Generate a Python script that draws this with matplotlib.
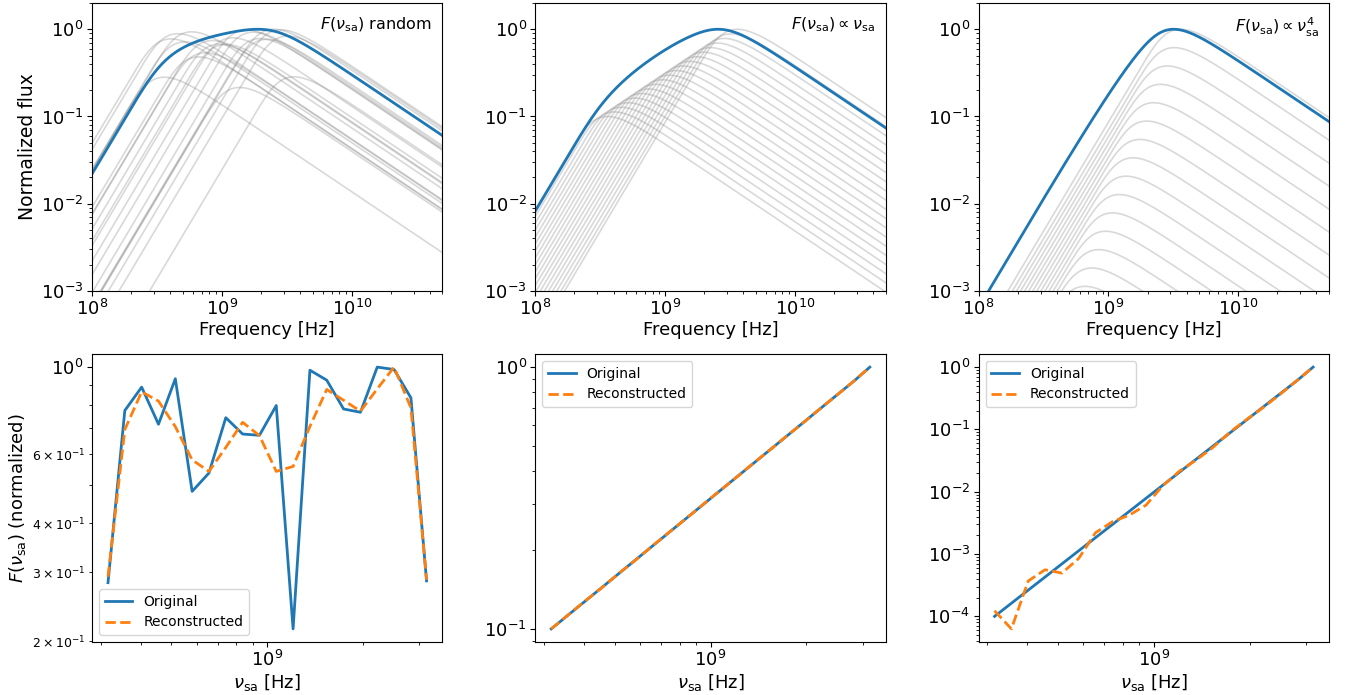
import numpy as np
import matplotlib
matplotlib.use("Agg")
import matplotlib.pyplot as plt

# self-absorption frequencies of the 20 components [Hz]
nu_sa = [3.162e8, 3.571e8, 4.033e8, 4.555e8, 5.144e8, 5.809e8, 6.560e8,
         7.409e8, 8.367e8, 9.449e8, 1.067e9, 1.205e9, 1.361e9, 1.537e9,
         1.736e9, 1.961e9, 2.214e9, 2.500e9, 2.824e9, 3.162e9]

# F(nu_sa), normalized -- original and reconstructed, one pair per panel
f_random = [0.282, 0.775, 0.889, 0.715, 0.934, 0.482, 0.537, 0.743, 0.675, 0.670,
            0.798, 0.215, 0.982, 0.926, 0.782, 0.767, 1.000, 0.986, 0.835, 0.285]
f_random_rec = [0.292, 0.693, 0.865, 0.819, 0.705, 0.580, 0.542, 0.624, 0.723, 0.669,
                0.542, 0.558, 0.706, 0.877, 0.823, 0.772, 0.880, 1.000, 0.787, 0.287]

f_lin = [0.1, 0.1129, 0.1274, 0.1438, 0.1624, 0.1833, 0.2069, 0.2336, 0.2637, 0.2976,
         0.3360, 0.3793, 0.4281, 0.4833, 0.5456, 0.6158, 0.6952, 0.7848, 0.8859, 1.0]
f_lin_rec = [0.1, 0.1131, 0.1277, 0.1436, 0.1628, 0.1830, 0.2072, 0.2340, 0.2633, 0.2980,
             0.3365, 0.3790, 0.4290, 0.4828, 0.5465, 0.6150, 0.6960, 0.7840, 0.8870, 1.0]

f_pow4 = [1.0e-4, 1.624e-4, 2.637e-4, 4.281e-4, 6.952e-4, 1.129e-3, 1.833e-3, 2.976e-3,
          4.833e-3, 7.848e-3, 1.274e-2, 2.069e-2, 3.360e-2, 5.456e-2, 8.859e-2, 0.1438,
          0.2336, 0.3793, 0.6158, 1.0]
f_pow4_rec = [1.23e-4, 6.3e-5, 3.7e-4, 5.6e-4, 4.95e-4, 8.5e-4, 2.2e-3, 3.3e-3,
              4.2e-3, 6.1e-3, 1.25e-2, 2.15e-2, 3.25e-2, 5.2e-2, 9.1e-2, 0.146,
              0.228, 0.372, 0.62, 1.0]

panel_text = [r"$F(\nu_{\rm sa})$ random",
              r"$F(\nu_{\rm sa}) \propto \nu_{\rm sa}$",
              r"$F(\nu_{\rm sa}) \propto \nu_{\rm sa}^4$"]


def ssa_spectrum(nu, nu_p, f_p, p=3.0):
    # Chevalier (1998) synchrotron self-absorbed spectrum
    x = nu / nu_p
    return 1.582 * f_p * x**2.5 * (1 - np.exp(-x**(-(p + 4) / 2)))


nu = np.logspace(8, np.log10(5e10), 600)

fig, axes = plt.subplots(2, 3, figsize=(13.46, 6.95), dpi=100)
plt.subplots_adjust(left=0.0684, right=0.9874, bottom=0.0763, top=0.9957,
                    wspace=0.265, hspace=0.219)

originals = [f_random, f_lin, f_pow4]
recons = [f_random_rec, f_lin_rec, f_pow4_rec]

for k in range(3):
    ax = axes[0, k]
    comps = [ssa_spectrum(nu, n, f) for n, f in zip(nu_sa, originals[k])]
    comps = np.array(comps)
    total = comps.sum(axis=0)
    cmax = comps.max()
    for c in comps:
        ax.plot(nu, c / cmax, color="gray", alpha=0.3, lw=1.2)
    ax.plot(nu, total / total.max(), color="#1f77b4", lw=2)
    ax.set_xscale("log")
    ax.set_yscale("log")
    ax.set_xlim(1e8, 5e10)
    ax.set_ylim(1e-3, 2)
    ax.set_xlabel("Frequency [Hz]", fontsize=13, labelpad=1)
    ax.text(0.97, 0.955, panel_text[k], transform=ax.transAxes,
            ha="right", va="top", fontsize=11.5)
    ax.tick_params(which="major", labelsize=13, pad=2.5)

    ax = axes[1, k]
    ax.plot(nu_sa, originals[k], color="#1f77b4", lw=2, label="Original")
    ax.plot(nu_sa, recons[k], color="#ff7f0e", lw=2, ls="--", label="Reconstructed")
    ax.set_xscale("log")
    ax.set_yscale("log")
    ax.set_xlabel(r"$\nu_{\rm sa}$ [Hz]", fontsize=13, labelpad=1)
    ax.tick_params(which="major", labelsize=13, pad=2.5)
    ax.tick_params(which="minor", labelsize=9, pad=2.5)
    if k == 0:
        ax.legend(loc="lower left", fontsize=10)
    else:
        ax.legend(loc="upper left", fontsize=10)

axes[0, 0].set_ylabel("Normalized flux", fontsize=13.5, labelpad=3)
axes[1, 0].set_ylabel(r"$F(\nu_{\rm sa})$ (normalized)", fontsize=13, labelpad=3)

plt.savefig("out.png", dpi=100)
